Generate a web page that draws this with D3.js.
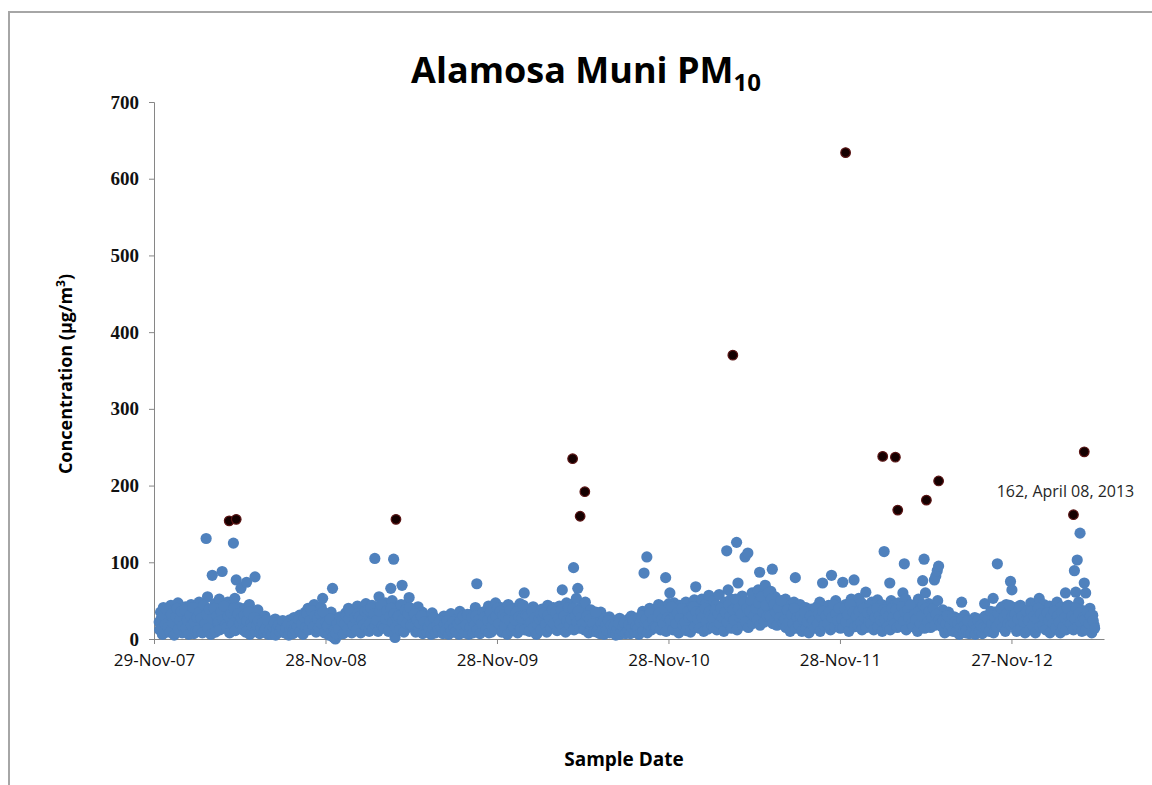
<!DOCTYPE html>
<html>
<head>
<meta charset="utf-8">
<script src="https://cdn.jsdelivr.net/npm/d3@7"></script>
<style>
  body { margin: 0; background: #fff; }
  svg { display: block; }
</style>
</head>
<body>
<div id="chart"></div>
<script>
// samples every 3rd day from the 1st of each month (one row per month, Dec..Nov)
const firstMonth = "2007-12";
const pm0708 = [
  [null, null, null, 22, 35, 14, 41, 28, 9, 33],
  [18, 44, 27, 12, 38, 25, 47, 16, 31, 8],
  [29, 42, 11, 36, 20, 45, 33, 7, 26, 39],
  [24, 48, 15, 37, 30, 12, 131, 55, 21, 34],
  [83, 28, 46, 19, 35, 52, 27, 88, 14, 31],
  [37, 48, 21, 44, 30, 125, 53, 77, 26, 41],
  [66, 34, 22, 40, 74, 18, 45, 29, 36, 13],
  [81, 27, 38, 16, 24, 11, 19, 30, 14, 22],
  [17, 9, 23, 12, 26, 8, 15, 20, 11, 18],
  [13, 21, 7, 16, 25, 10, 19, 28, 12, 22],
  [18, 31, 14, 26, 9, 35, 22, 40, 17, 29],
  [24, 45, 32, 19, 38, 27, 41, 53, 30, 12]
];
const pm0809 = [
  [8, 22, 14, 35, 66, 2, 0, 11, 18, 6],
  [15, 28, 9, 34, 21, 40, 13, 30, 24, 37],
  [27, 43, 18, 33, 11, 39, 25, 46, 20, 31],
  [35, 22, 44, 29, 105, 16, 38, 55, 27, 42],
  [31, 47, 24, 39, 18, 66, 50, 104, 2, 36],
  [42, 26, 37, 70, 21, 33, 45, 15, 54, 29],
  [38, 24, 31, 17, 42, 28, 20, 35, 13, 26],
  [19, 29, 12, 23, 34, 15, 27, 10, 21, 16],
  [22, 11, 30, 18, 8, 25, 14, 33, 19, 9],
  [16, 27, 13, 36, 20, 10, 29, 17, 24, 12],
  [25, 14, 33, 21, 41, 72, 18, 30, 11, 27],
  [20, 36, 15, 43, 28, 9, 39, 24, 47, 32]
];
const pm0910 = [
  [30, 18, 41, 26, 12, 37, 22, 45, 16, 34],
  [28, 40, 14, 33, 21, 46, 17, 38, 60, 25],
  [19, 35, 27, 11, 42, 23, 31, 8, 37, 15],
  [26, 39, 13, 30, 22, 44, 18, 35, 28, 41],
  [24, 37, 16, 43, 29, 64, 20, 33, 47, 12],
  [32, 45, 27, 93, 38, 53, 66, 21, 41, 36],
  [29, 48, 17, 34, 22, 38, 14, 27, 19, 31],
  [21, 13, 35, 18, 26, 10, 23, 16, 29, 12],
  [15, 24, 11, 19, 8, 27, 14, 21, 10, 18],
  [17, 26, 12, 30, 20, 14, 24, 9, 28, 19],
  [23, 36, 86, 14, 107, 31, 40, 19, 34, 27],
  [38, 21, 45, 30, 16, 42, 27, 80, 35, 24]
];
const pm1011 = [
  [60, 33, 18, 47, 26, 39, 12, 44, 29, 36],
  [31, 48, 22, 40, 15, 37, 27, 51, 68, 20],
  [43, 26, 52, 34, 19, 46, 30, 57, 24, 38],
  [35, 50, 22, 44, 29, 58, 17, 41, 33, 48],
  [115, 64, 38, 52, 27, 45, 19, 126, 73, 33],
  [41, 56, 28, 107, 35, 112, 47, 24, 60, 39],
  [52, 33, 64, 87, 45, 28, 58, 70, 37, 49],
  [44, 62, 91, 38, 55, 30, 47, 25, 41, 34],
  [36, 52, 27, 43, 19, 38, 31, 48, 80, 22],
  [29, 45, 17, 36, 24, 41, 12, 33, 26, 39],
  [35, 21, 30, 42, 27, 48, 16, 73, 37, 25],
  [31, 44, 19, 83, 38, 26, 50, 33, 22, 40]
];
const pm1112 = [
  [36, 74, 27, 45, 18, 39, 30, 52, 24, 77],
  [42, 29, 53, 34, 47, 20, 38, 61, 26, 44],
  [33, 48, 22, 39, 27, 51, 17, 36, 45, 30],
  [114, 41, 25, 38, 73, 50, 22, 44, 31, 35],
  [47, 29, 36, 60, 98, 52, 24, 40, 18, 33],
  [28, 43, 19, 37, 52, 25, 41, 76, 104, 60],
  [34, 46, 22, 39, 28, 77, 82, 89, 95, 31],
  [26, 38, 14, 30, 21, 35, 11, 24, 17, 29],
  [18, 27, 10, 22, 48, 15, 31, 8, 20, 13],
  [16, 24, 9, 28, 19, 12, 26, 14, 21, 11],
  [46, 22, 17, 30, 25, 13, 53, 35, 20, 98],
  [37, 24, 42, 31, 19, 45, 28, 33, 75, 64]
];
const pm1213 = [
  [29, 41, 18, 35, 26, 44, 21, 38, 15, 32],
  [36, 23, 47, 30, 19, 42, 27, 34, 53, 25],
  [31, 45, 22, 38, 16, 43, 28, 35, 20, 40],
  [27, 48, 33, 19, 42, 25, 36, 60, 30, 44],
  [35, 22, 41, 89, 61, 103, 48, 138, 29, 37],
  [73, 60, 34, 26, 40, 21, 31, 18, null, null]
];

// the in-between days (2nd, 5th, 8th ... of each month)
const pmB0708 = [
  [null, null, null, 12, 26, 6, 31, 19, 38, 15],
  [9, 33, 21, 5, 29, 40, 13, 24, 36, 17],
  [38, 14, 25, 6, 31, 18, 41, 22, 10, 28],
  [11, 35, 27, 8, 44, 20, 32, 14, 39, 6],
  [26, 40, 9, 30, 22, 12, 36, 25, 43, 19],
  [15, 30, 8, 34, 19, 40, 11, 28, 33, 20],
  [27, 12, 31, 9, 24, 35, 6, 21, 16, 28],
  [10, 18, 24, 7, 15, 21, 9, 13, 25, 6],
  [12, 6, 16, 21, 5, 13, 18, 9, 14, 24],
  [8, 15, 19, 5, 12, 17, 7, 14, 10, 16],
  [25, 10, 20, 6, 28, 15, 33, 12, 24, 37],
  [16, 30, 9, 26, 14, 33, 20, 35, 8, 22]
];
const pmB0809 = [
  [17, 5, 26, 10, 3, 12, 7, 20, 13, 29],
  [24, 7, 20, 30, 12, 26, 35, 8, 18, 28],
  [12, 33, 29, 8, 25, 19, 36, 14, 38, 10],
  [20, 40, 13, 33, 18, 24, 10, 36, 45, 17],
  [14, 26, 37, 10, 29, 40, 22, 33, 15, 27],
  [30, 12, 45, 25, 9, 38, 20, 33, 41, 18],
  [16, 33, 9, 25, 12, 20, 30, 7, 22, 14],
  [9, 16, 22, 6, 14, 28, 8, 18, 12, 24],
  [14, 7, 19, 11, 24, 6, 17, 10, 22, 15],
  [10, 20, 6, 24, 14, 30, 8, 18, 32, 6],
  [15, 28, 8, 19, 30, 12, 25, 7, 20, 35],
  [29, 12, 24, 8, 35, 17, 26, 13, 30, 40]
];
const pmB0910 = [
  [20, 36, 9, 31, 17, 28, 6, 25, 38, 11],
  [16, 25, 35, 8, 29, 13, 27, 44, 12, 31],
  [30, 10, 22, 36, 15, 28, 6, 19, 26, 33],
  [12, 28, 34, 19, 9, 31, 25, 14, 38, 20],
  [35, 11, 27, 20, 38, 14, 30, 9, 24, 41],
  [18, 26, 40, 12, 30, 22, 36, 14, 28, 20],
  [12, 22, 30, 8, 26, 15, 20, 10, 35, 9],
  [14, 7, 20, 12, 6, 17, 11, 24, 8, 18],
  [9, 17, 5, 13, 20, 6, 11, 16, 21, 7],
  [11, 19, 7, 15, 24, 9, 17, 13, 6, 22],
  [30, 10, 22, 26, 8, 19, 34, 12, 25, 16],
  [15, 29, 34, 12, 26, 20, 38, 10, 28, 46]
];
const pmB1011 = [
  [25, 42, 12, 30, 20, 34, 8, 27, 40, 18],
  [22, 11, 36, 28, 9, 30, 42, 16, 35, 26],
  [14, 35, 28, 10, 40, 22, 13, 36, 30, 17],
  [27, 15, 38, 12, 33, 20, 40, 28, 10, 35],
  [22, 45, 30, 14, 38, 25, 52, 12, 40, 28],
  [33, 18, 48, 22, 40, 15, 36, 50, 20, 30],
  [40, 25, 47, 18, 55, 35, 22, 44, 30, 60],
  [30, 52, 20, 45, 35, 18, 40, 28, 50, 22],
  [25, 15, 38, 22, 10, 32, 20, 40, 14, 28],
  [18, 30, 10, 25, 35, 14, 22, 8, 30, 20],
  [24, 14, 40, 20, 33, 10, 28, 36, 18, 30],
  [20, 35, 12, 28, 45, 16, 33, 24, 40, 14]
];
const pmB1112 = [
  [26, 15, 40, 22, 32, 10, 45, 20, 35, 16],
  [30, 18, 36, 22, 12, 40, 28, 15, 34, 22],
  [20, 36, 12, 28, 40, 16, 30, 24, 10, 38],
  [25, 35, 16, 30, 12, 40, 28, 20, 38, 15],
  [30, 18, 42, 24, 35, 12, 38, 28, 45, 20],
  [16, 32, 26, 10, 36, 20, 30, 45, 14, 40],
  [22, 36, 15, 28, 40, 18, 32, 50, 25, 20],
  [16, 25, 8, 20, 30, 12, 18, 26, 10, 22],
  [10, 20, 6, 15, 25, 9, 18, 12, 24, 7],
  [8, 16, 20, 6, 14, 24, 10, 18, 7, 15],
  [30, 14, 26, 10, 36, 20, 8, 28, 16, 34],
  [22, 40, 15, 28, 10, 33, 20, 44, 18, 30]
];
const pmB1213 = [
  [20, 32, 10, 26, 40, 14, 30, 22, 8, 36],
  [24, 12, 36, 18, 30, 8, 26, 40, 16, 33],
  [18, 28, 12, 34, 24, 8, 30, 20, 36, 14],
  [15, 30, 22, 8, 35, 16, 28, 12, 40, 22],
  [20, 30, 12, 26, 40, 16, 34, 22, 10, 28],
  [25, 12, 35, 20, 30, 8, 24, 14, null, null]
];

// flagged high values (drawn dark)
const flagDates = ["2008-05-07", "2008-05-22", "2009-04-27", "2010-05-08", "2010-05-24",
  "2010-06-03", "2011-04-14", "2011-12-10", "2012-02-27", "2012-03-25", "2012-03-30",
  "2012-05-30", "2012-06-25", "2013-04-08", "2013-05-01"];
const flagValues = [154, 156, 156, 235, 160, 192, 370, 634, 238, 237, 168, 181, 206, 162, 244];

const tickDates = ["2007-11-29", "2008-11-28", "2009-11-28", "2010-11-28", "2011-11-28", "2012-11-27"];
const yTicks = [0, 100, 200, 300, 400, 500, 600, 700];

const W = 1152, H = 785;
const plot = { left: 154, right: 1104, top: 102, bottom: 639 };

const parse = d3.timeParse("%Y-%m-%d");
const fmt = d3.timeFormat("%-d-%b-%y");
const m0 = d3.timeParse("%Y-%m")(firstMonth);

function toPoints(rows, dayOffset) {
  const out = [];
  rows.forEach((row, k) => {
    const ms = d3.timeMonth.offset(m0, k);
    row.forEach((v, j) => {
      if (v !== null) out.push({ date: d3.timeDay.offset(ms, 3 * j + dayOffset), value: v });
    });
  });
  return out;
}
const points = toPoints([].concat(pm0708, pm0809, pm0910, pm1011, pm1112, pm1213), 0)
  .concat(toPoints([].concat(pmB0708, pmB0809, pmB0910, pmB1011, pmB1112, pmB1213), 1));
const flags = flagDates.map((d, i) => ({ date: parse(d), value: flagValues[i] }));

const x = d3.scaleTime()
  .domain([parse("2007-11-29"), parse("2013-06-12")])
  .range([plot.left, plot.right]);
const y = d3.scaleLinear().domain([0, 700]).range([plot.bottom, plot.top]);

const svg = d3.select("#chart").append("svg")
  .attr("width", W).attr("height", H);

// outer frame (only top and left visible)
svg.append("path")
  .attr("d", `M9,${H} V12 H${W}`)
  .attr("fill", "none").attr("stroke", "#a6a6a6").attr("stroke-width", 2);

// title
const title = svg.append("text")
  .attr("x", 586).attr("y", 83)
  .attr("text-anchor", "middle")
  .style("font-family", "'Open Sans', sans-serif")
  .style("font-weight", "bold")
  .style("font-size", "36px")
  .attr("fill", "#000");
title.append("tspan").text("Alamosa Muni PM");
title.append("tspan").attr("dy", 8).style("font-size", "24px").text("10");

// y axis
const yAxis = svg.append("g")
  .attr("transform", `translate(${plot.left},0)`)
  .call(d3.axisLeft(y).tickValues(yTicks).tickSize(5).tickPadding(10).tickFormat(d3.format("d")));
yAxis.select(".domain").attr("stroke", "#868686");
yAxis.selectAll(".tick line").attr("stroke", "#868686");
yAxis.selectAll(".tick text")
  .style("font-family", "'Liberation Serif', serif")
  .style("font-weight", "bold")
  .style("font-size", "19px")
  .attr("fill", "#111");

// x axis
const xAxis = svg.append("g")
  .attr("transform", `translate(0,${plot.bottom})`)
  .call(d3.axisBottom(x).tickValues(tickDates.map(parse)).tickSize(5).tickSizeOuter(0).tickPadding(10).tickFormat(fmt));
xAxis.select(".domain").attr("stroke", "#868686");
xAxis.selectAll(".tick line").attr("stroke", "#868686");
xAxis.selectAll(".tick text")
  .style("font-family", "'Open Sans', sans-serif")
  .style("font-size", "17px")
  .attr("fill", "#111");

// axis titles
svg.append("text")
  .attr("transform", "translate(72,374) rotate(-90)")
  .attr("text-anchor", "middle")
  .style("font-family", "'Open Sans', sans-serif")
  .style("font-weight", "bold")
  .style("font-size", "18px")
  .html("Concentration (µg/m<tspan dy='-7' font-size='12px'>3</tspan><tspan dy='7'>)</tspan>");

svg.append("text")
  .attr("x", 624).attr("y", 766)
  .attr("text-anchor", "middle")
  .style("font-family", "'Open Sans', sans-serif")
  .style("font-weight", "bold")
  .style("font-size", "19px")
  .text("Sample Date");

// points
svg.append("g").selectAll("circle")
  .data(points).join("circle")
  .attr("cx", d => x(d.date))
  .attr("cy", d => y(d.value))
  .attr("r", 5.6)
  .attr("fill", "#4f81bd");

svg.append("g").selectAll("circle")
  .data(flags).join("circle")
  .attr("cx", d => x(d.date))
  .attr("cy", d => y(d.value))
  .attr("r", 4.8)
  .attr("fill", "#150000")
  .attr("stroke", "#5a1414")
  .attr("stroke-width", 1.2);

// data label on the 8 April 2013 value
const lab = flags.find(d => +d.date === +parse("2013-04-08"));
svg.append("text")
  .attr("x", x(lab.date) - 8).attr("y", y(lab.value) - 18)
  .attr("text-anchor", "middle")
  .style("font-family", "'Open Sans', sans-serif")
  .style("font-size", "16px")
  .attr("fill", "#262626")
  .text(`${lab.value}, April 08, 2013`);
</script>
</body>
</html>
